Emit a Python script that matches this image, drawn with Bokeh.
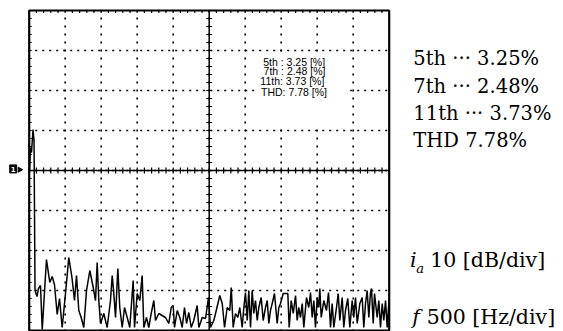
import numpy as np
from bokeh.plotting import figure
from bokeh.models import Range1d, Label
from bokeh.embed import file_html
from bokeh.resources import INLINE

# ---- data ----
freq_hz = [4, 18, 32, 53, 67, 81, 108, 129, 157, 181, 240, 286, 319, 351, 389, 421, 458, 504, 550, 594,
           629, 657, 689, 722, 758, 796, 842, 889, 921, 944, 967, 990, 1036, 1083, 1129, 1153, 1175, 1199,
           1231, 1258, 1292, 1324, 1361, 1397, 1444, 1463, 1500, 1536, 1569, 1592, 1629, 1661, 1694, 1731,
           1754, 1800, 1847, 1893, 1939, 1972, 2000, 2018, 2056, 2092, 2125, 2157, 2185, 2217, 2250, 2286,
           2333, 2356, 2403, 2449, 2490, 2518, 2564, 2588, 2647, 2681, 2713, 2750, 2786, 2806, 2833, 2865,
           2897, 2925, 2958, 2981, 3004, 3028, 3050, 3074, 3097, 3119, 3143, 3167, 3189, 3222, 3250, 3282,
           3306, 3328, 3351, 3375, 3407, 3444, 3467, 3490, 3528, 3560, 3592, 3611, 3639, 3667, 3699, 3722,
           3744, 3768, 3792, 3814, 3851, 3883, 3907, 3931, 3953, 3976, 4000, 4022, 4036, 4056, 4092, 4129,
           4157, 4185, 4208, 4231, 4268, 4292, 4314, 4347, 4369, 4393, 4425, 4453, 4486, 4508, 4532, 4556,
           4592, 4625, 4647, 4671, 4694, 4717, 4740, 4754, 4778, 4796, 4833, 4856, 4879, 4903, 4925, 4949,
           4972, 4997]
level_db = [-40.5, -34.25, -35.5, -29.75, -32.5, -70, -71.5, -69.5, -68.75, -79.75, -62.25, -68, -66.5,
            -68.5, -76, -72, -79.25, -70.75, -61.75, -66.75, -72.5, -66.25, -75, -76.75, -79.25, -70, -65,
            -69.25, -72.5, -63, -72.5, -78.25, -75.75, -79.25, -72.5, -66.25, -70.75, -76.75, -64.5, -74.25,
            -79.25, -74.25, -76.75, -79.25, -67.5, -79.25, -70.75, -72.5, -66.25, -79.25, -76.75, -79.25,
            -75.75, -72.5, -77.5, -75.75, -76.25, -76.75, -78.25, -74.25, -73.75, -79.25, -75, -76.75, -79.25,
            -74.25, -78.25, -75.5, -79.25, -77.5, -73.75, -79.25, -76.75, -77, -71.75, -79.25, -77.5, -75.75,
            -71.25, -73.25, -79.25, -74.25, -75, -69.25, -79.25, -75.75, -76.75, -74.25, -79.25, -74.25,
            -70.5, -77.5, -70, -79.25, -70, -75.75, -72.5, -77.5, -74.25, -71.75, -77.5, -74.25, -72.5,
            -78.25, -75, -73.25, -70.75, -78.25, -74.25, -73.25, -70.75, -70.75, -70.75, -79.25, -72.5,
            -75.75, -71.25, -77.5, -74.25, -76.75, -73.25, -79.25, -71.75, -74.25, -70.5, -76.75, -72.5,
            -79.25, -71.75, -74.25, -69.5, -76.75, -72.5, -75, -70.5, -79.25, -73.25, -79.25, -74.25,
            -70.75, -77.5, -71.75, -79.25, -75, -72, -79.25, -72.5, -76.75, -71.75, -78.25, -73.25, -71.75,
            -79.25, -73.25, -70, -76.75, -70.5, -69.5, -78.25, -70.75, -76.75, -72.5, -79.25, -73.25, -77.5,
            -72.5, -79.25, -72.5]
harmonic_names = ["5th", "7th", "11th"]
harmonic_pct = [3.25, 2.48, 3.73]
thd_pct = 7.78
hz_per_div = 500
db_per_div = 10
n_xdiv = 10
n_ydiv = 8

x_max = hz_per_div * n_xdiv
y_min = -db_per_div * n_ydiv
hz_px = hz_per_div / 36.0   # Hz per screen pixel
db_px = db_per_div / 40.0   # dB per screen pixel

# the canvas spans the scope screen plus the margin used for the annotations
p = figure(width=563, height=331,
           x_range=Range1d(-28.7 * hz_px, x_max + 174.3 * hz_px),
           y_range=Range1d(y_min - 1 * db_px, 10 * db_px),
           output_backend="svg", toolbar_location=None,
           x_axis_location=None, y_axis_location=None,
           min_border_left=0, min_border_right=0, min_border_top=0, min_border_bottom=0)
p.outline_line_color = None
p.background_fill_color = "white"
p.border_fill_color = "white"
p.grid.visible = False

xt = [hz_per_div * i for i in range(1, n_xdiv)]
yt = [y_min + db_per_div * i for i in range(1, n_ydiv)]
xc = x_max / 2
yc = y_min / 2

# dotted graticule
p.segment(x0=xt, x1=xt, y0=y_min, y1=0, line_color="black", line_width=1.6, line_dash="2 6",
          line_dash_offset=1)
p.segment(x0=0, x1=x_max, y0=yt, y1=yt, line_color="black", line_width=1.6, line_dash="2 5",
          line_dash_offset=1)

# blank area behind the on-screen readout
p.quad(left=[3180], right=[4400], bottom=[-29], top=[-11], fill_color="white", line_color=None)

# centre cross
p.segment(x0=[xc], x1=[xc], y0=[y_min], y1=[0], line_color="black", line_width=1.5)
p.segment(x0=[0], x1=[x_max], y0=[yc], y1=[yc], line_color="black", line_width=1.5)

# minor ticks (0.2 div)
minor_y = np.arange(y_min, 0.01, db_per_div / 5)
minor_x = np.arange(0, x_max + 0.01, hz_per_div / 5)
hx = 3 * hz_px
hy = 3 * db_px
p.segment(x0=xc - hx, x1=xc + hx, y0=minor_y, y1=minor_y, line_color="black", line_width=1.2)
p.segment(x0=minor_x, x1=minor_x, y0=yc - hy, y1=yc + hy, line_color="black", line_width=1.2)
# border ticks
p.segment(x0=0, x1=2.5 * hz_px, y0=minor_y, y1=minor_y, line_color="black", line_width=1.2)
p.segment(x0=minor_x, x1=minor_x, y0=-2.5 * db_px, y1=0, line_color="black", line_width=1.2)

# screen border
p.quad(left=[0], right=[x_max], bottom=[y_min], top=[0], fill_color=None,
       line_color="black", line_width=2.2)

# spectrum trace
p.line(freq_hz, level_db, line_color="black", line_width=1.5)

# on-screen readout
readout = [f"{n}{':' if n == '11th' else ' :'} {v:.2f} [%]" for n, v in zip(harmonic_names, harmonic_pct)]
readout.append(f"THD: {thd_pct:.2f} [%]")
ry = [-12.8, -15.1, -17.6, -20.3]
rx = [3250, 3255, 3210, 3220]
for txt, xx, yy in zip(readout, rx, ry):
    p.add_layout(Label(x=xx, y=yy, text=txt, text_font="Liberation Sans",
                       text_font_size="10.5px", text_baseline="middle", text_color="black"))

# channel marker
p.rect(x=[-16 * hz_px], y=[yc + 0.4], width=7 * hz_px, height=8 * db_px, fill_color="black",
       line_color="black")
p.add_layout(Label(x=-16 * hz_px, y=yc + 0.4, text="1", text_font="DejaVu Sans", text_font_size="7px",
                   text_color="white", text_font_style="bold",
                   text_baseline="middle", text_align="center"))
p.scatter([-9.5 * hz_px], [yc + 0.2], marker="triangle", angle=-np.pi / 2, size=5, color="black")

# right-side annotations
serif = "DejaVu Serif"
fs = "19.5px"
fs2 = "20.5px"
side = [f"{n} \u00b7\u00b7\u00b7 {v:.2f}%" for n, v in zip(harmonic_names, harmonic_pct)]
side.append(f"THD {thd_pct:.2f}%")
sy = [-12.1, -19.1, -25.8, -32.5]
for txt, yy in zip(side, sy):
    p.add_layout(Label(x=5335, y=yy, text=txt, text_font=serif, text_font_size=fs,
                       text_baseline="alphabetic", text_color="black"))

p.add_layout(Label(x=5290, y=-65.4, text="i", text_font=serif, text_font_style="italic",
                   text_font_size=fs2, text_color="black"))
p.add_layout(Label(x=5375, y=-66.3, text="a", text_font=serif, text_font_style="italic",
                   text_font_size="13px", text_color="black"))
p.add_layout(Label(x=5570, y=-65.4, text=f"{db_per_div} [dB/div]", text_font=serif,
                   text_font_size=fs2, text_color="black"))
p.add_layout(Label(x=5320, y=-79.5, text="f", text_font=serif, text_font_style="italic",
                   text_font_size=fs2, text_color="black"))
p.add_layout(Label(x=5520, y=-79.5, text=f"{hz_per_div} [Hz/div]", text_font=serif,
                   text_font_size=fs2, text_color="black"))

open("out.html", "w").write(file_html(p, INLINE))
